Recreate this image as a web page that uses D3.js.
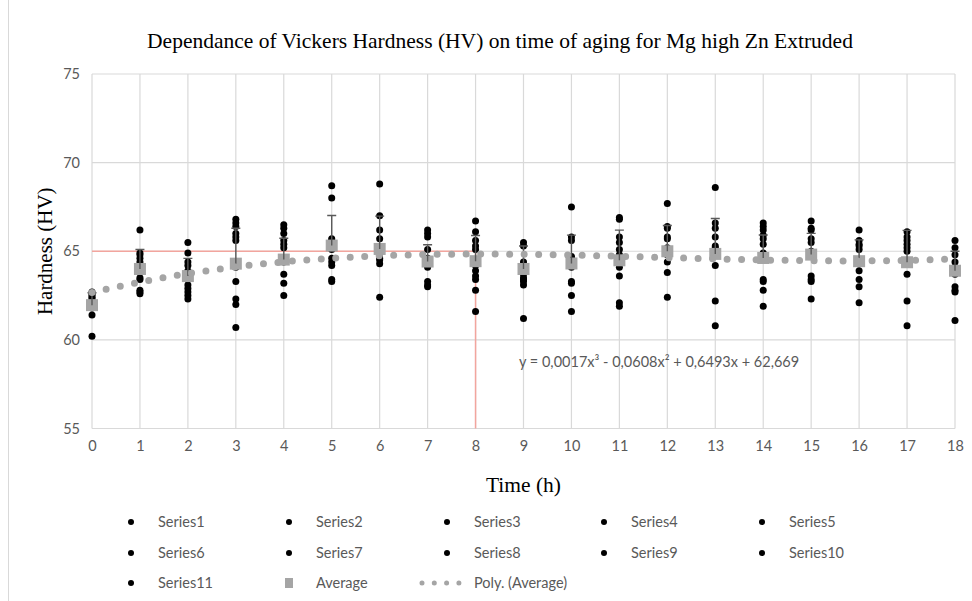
<!DOCTYPE html>
<html>
<head>
<meta charset="utf-8">
<script src="https://cdn.jsdelivr.net/npm/d3@7"></script>
<style>
  body { margin: 0; background: #fff; }
</style>
</head>
<body>
<div id="chart"></div>
<script>
// hours of aging
const hours = d3.range(0, 19);

// hardness readings (HV), one value per hour
const series1  = [62.7, 66.2, 65.5, 66.8, 66.5, 68.7, 68.8, 66.2, 66.7, 65.5, 67.5, 66.9, 67.7, 68.6, 66.6, 66.7, 66.2, 66.1, 65.6];
const series2  = [62.6, 64.9, 64.9, 66.6, 66.3, 68.0, 67.0, 66.0, 66.1, 65.3, 65.8, 66.8, 66.4, 66.6, 66.4, 66.3, 65.6, 65.8, 65.2];
const series3  = [62.5, 64.8, 64.4, 66.4, 66.0, 65.7, 66.2, 65.8, 65.6, 64.4, 65.6, 65.8, 66.3, 66.3, 66.2, 66.2, 65.4, 65.6, 64.8];
const series4  = [62.4, 64.6, 64.2, 66.0, 65.6, 65.6, 65.7, 65.1, 65.3, 64.2, 64.7, 65.5, 65.8, 65.8, 65.9, 65.7, 65.3, 65.4, 64.4];
const series5  = [62.3, 64.4, 63.9, 65.8, 65.4, 65.3, 65.2, 64.6, 65.1, 64.1, 64.6, 65.1, 65.7, 65.3, 65.7, 65.5, 65.1, 65.2, 64.1];
const series6  = [62.2, 64.0, 63.4, 65.6, 65.2, 65.1, 65.1, 64.4, 64.2, 63.7, 64.3, 64.8, 65.2, 65.2, 65.4, 65.0, 64.5, 65.0, 63.9];
const series7  = [62.0, 63.5, 63.1, 64.1, 64.6, 64.6, 64.9, 64.3, 63.9, 63.5, 64.1, 64.5, 65.0, 64.9, 64.9, 64.8, 64.3, 64.4, 63.7];
const series8  = [61.9, 63.4, 62.9, 63.3, 64.4, 64.4, 64.6, 64.1, 63.6, 63.4, 63.3, 64.1, 64.8, 64.8, 63.4, 63.6, 63.9, 64.3, 63.0];
const series9  = [61.8, 62.8, 62.7, 62.3, 63.7, 64.2, 64.5, 63.3, 63.4, 63.3, 63.2, 63.6, 64.4, 64.2, 63.3, 63.4, 63.4, 63.7, 62.8];
const series10 = [61.4, 62.7, 62.5, 62.0, 63.2, 63.4, 64.3, 63.1, 62.8, 63.1, 62.5, 62.1, 63.8, 62.2, 62.8, 63.3, 63.0, 62.2, 62.7];
const series11 = [60.2, 62.6, 62.3, 60.7, 62.5, 63.3, 62.4, 63.0, 61.6, 61.2, 61.6, 61.9, 62.4, 60.8, 61.9, 62.3, 62.1, 60.8, 61.1];
const seriesNames = ['Series1', 'Series2', 'Series3', 'Series4', 'Series5', 'Series6',
                     'Series7', 'Series8', 'Series9', 'Series10', 'Series11'];

const average    = [61.96, 64.0, 63.6, 64.3, 64.53, 65.32, 65.13, 64.42, 64.44, 64.0, 64.31, 64.49, 65.0, 64.85, 64.62, 64.81, 64.44, 64.38, 63.9];
const averageErr = [0.7, 1.1, 1.0, 2.0, 1.2, 1.7, 1.85, 0.95, 1.45, 1.3, 1.6, 1.7, 1.45, 2.0, 1.3, 1.2, 1.2, 1.8, 1.1];

// trendline as printed on the chart: y = 0,0017x3 - 0,0608x2 + 0,6493x + 62,669
const trendCoef = [62.669, 0.6493, -0.0608, 0.0017];
const trendLabel = 'y = 0,0017x\u00b3 - 0,0608x\u00b2 + 0,6493x + 62,669';

const yTicks = [55, 60, 65, 70, 75];
const refHardness = 65;
const refHour = 8;

const width = 972, height = 601;
const margin = { top: 74, left: 92, right: 17, bottom: 172.5 };
const grey = '#595959';
const tickFont = 'Lato, "Open Sans", sans-serif';
const serif = '"Liberation Serif", "Times New Roman", serif';

const svg = d3.select('#chart').append('svg')
    .attr('width', width)
    .attr('height', height);

// chart border (left edge only visible)
svg.append('line')
    .attr('x1', 8.5).attr('x2', 8.5).attr('y1', 0).attr('y2', height)
    .attr('stroke', '#d9d9d9');

const x = d3.scaleLinear()
    .domain([0, 18])
    .range([margin.left, width - margin.right]);

const y = d3.scaleLinear()
    .domain([55, 75])
    .range([height - margin.bottom, margin.top]);

// grid
const grid = svg.append('g').attr('id', 'grid');
grid.selectAll('.hgrid')
    .data(yTicks)
    .join('line')
    .attr('x1', x(0)).attr('x2', x(18))
    .attr('y1', d => y(d)).attr('y2', d => y(d))
    .attr('stroke', '#d9d9d9').attr('stroke-width', 1.2);
grid.selectAll('.vgrid')
    .data(hours)
    .join('line')
    .attr('x1', d => x(d)).attr('x2', d => x(d))
    .attr('y1', y(75)).attr('y2', y(55))
    .attr('stroke', '#d9d9d9').attr('stroke-width', 1.2);

// axes (text only, Excel style)
svg.append('g')
    .attr('id', 'y-axis')
    .attr('transform', `translate(${x(0)},0)`)
    .call(d3.axisLeft(y).tickValues(yTicks).tickSize(0).tickPadding(12))
    .call(g => g.select('.domain').remove())
    .call(g => g.selectAll('text').attr('fill', grey).attr('font-size', 14.5).attr('font-family', tickFont));

svg.append('g')
    .attr('id', 'x-axis')
    .attr('transform', `translate(0,${y(55)})`)
    .call(d3.axisBottom(x).tickValues(hours).tickSize(0).tickPadding(12).tickFormat(d3.format('d')))
    .call(g => g.select('.domain').remove())
    .call(g => g.selectAll('text').attr('fill', grey).attr('font-size', 14.5).attr('font-family', tickFont));

// reference lines
svg.append('path')
    .attr('d', `M${x(0)},${y(refHardness)}H${x(refHour)}V${y(55)}`)
    .attr('fill', 'none')
    .attr('stroke', '#f2a59e')
    .attr('stroke-width', 1.5);

// readings
const allSeries = [series1, series2, series3, series4, series5, series6,
                   series7, series8, series9, series10, series11];
const dataRegion = svg.append('g').attr('id', 'data');
allSeries.forEach((s, i) => {
    dataRegion.append('g')
        .selectAll('circle')
        .data(s)
        .join('circle')
        .attr('cx', (d, j) => x(hours[j]))
        .attr('cy', d => y(d))
        .attr('r', 3.5)
        .attr('fill', '#000');
});

// average squares
dataRegion.append('g')
    .selectAll('rect')
    .data(average)
    .join('rect')
    .attr('x', (d, j) => x(hours[j]) - 6)
    .attr('y', d => y(d) - 6)
    .attr('width', 12)
    .attr('height', 12)
    .attr('fill', '#a5a5a5');

// error bars (plus direction)
const err = dataRegion.append('g').attr('stroke', grey).attr('stroke-width', 1.4);
err.selectAll('.bar')
    .data(average)
    .join('path')
    .attr('d', (d, j) => {
        const cx = x(hours[j]), top = y(d + averageErr[j]);
        return `M${cx},${y(d)}V${top}M${cx - 4.5},${top}H${cx + 4.5}`;
    });

// polynomial trendline
const trendX = d3.range(0, 18.001, 0.1);
const poly = t => trendCoef.reduce((acc, c, k) => acc + c * Math.pow(t, k), 0);
svg.append('path')
    .datum(trendX)
    .attr('d', d3.line().x(d => x(d)).y(d => y(poly(d))))
    .attr('fill', 'none')
    .attr('stroke', '#a5a5a5')
    .attr('stroke-width', 7)
    .attr('stroke-linecap', 'round')
    .attr('stroke-dasharray', '0 14.5');

svg.append('text')
    .attr('x', 519).attr('y', 367)
    .attr('fill', grey)
    .attr('font-size', 14.5)
    .attr('font-family', tickFont)
    .text(trendLabel);

// titles
svg.append('text')
    .attr('x', 500).attr('y', 48)
    .attr('text-anchor', 'middle')
    .attr('font-family', serif)
    .attr('font-size', 21.5)
    .text('Dependance of Vickers Hardness (HV) on time of aging for Mg high Zn Extruded');

svg.append('text')
    .attr('transform', `translate(52,${(y(55) + y(75)) / 2}) rotate(-90)`)
    .attr('text-anchor', 'middle')
    .attr('font-family', serif)
    .attr('font-size', 21)
    .text('Hardness (HV)');

svg.append('text')
    .attr('x', (x(0) + x(18)) / 2).attr('y', 492)
    .attr('text-anchor', 'middle')
    .attr('font-family', serif)
    .attr('font-size', 21.5)
    .text('Time (h)');

// legend
const legendCols = [131, 289, 447, 604, 762];
const legendRows = [522, 553, 583];
const legendItems = seriesNames.map(n => ({ name: n, type: 'dot' }))
    .concat([{ name: 'Average', type: 'square' }, { name: 'Poly. (Average)', type: 'trend' }]);

const legend = svg.append('g').attr('id', 'legend');
legendItems.forEach((item, i) => {
    const lx = legendCols[i % 5];
    const ly = legendRows[Math.floor(i / 5)];
    const g = legend.append('g');
    if (item.type === 'dot') {
        g.append('circle').attr('cx', lx).attr('cy', ly).attr('r', 3).attr('fill', '#000');
    } else if (item.type === 'square') {
        g.append('rect').attr('x', lx - 4).attr('y', ly - 5).attr('width', 8).attr('height', 10).attr('fill', '#a5a5a5');
    } else {
        g.append('line')
            .attr('x1', lx - 25).attr('x2', lx + 12).attr('y1', ly).attr('y2', ly)
            .attr('stroke', '#a5a5a5').attr('stroke-width', 5)
            .attr('stroke-linecap', 'round').attr('stroke-dasharray', '0 12.3');
    }
    g.append('text')
        .attr('x', lx + 27).attr('y', ly + 5)
        .attr('fill', grey)
        .attr('font-size', 14.5)
        .attr('font-family', tickFont)
        .text(item.name);
});
</script>
</body>
</html>
